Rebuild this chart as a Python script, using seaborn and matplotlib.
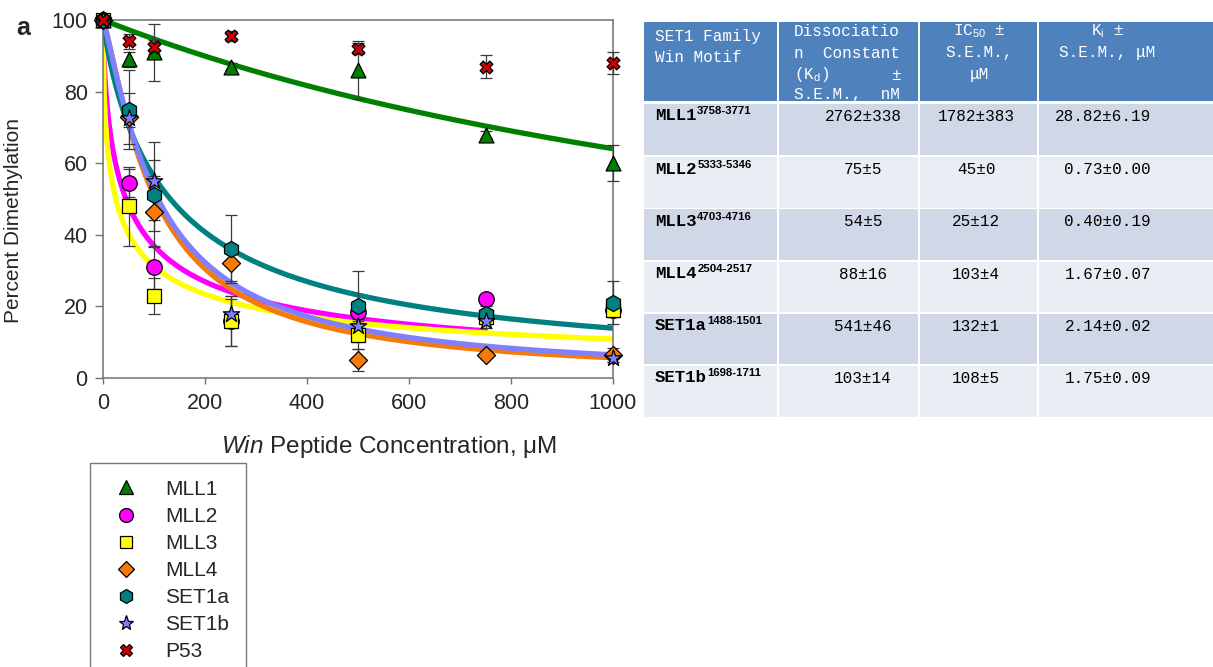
import numpy as np
import pandas as pd
import matplotlib
matplotlib.use("Agg")
import matplotlib.pyplot as plt
from matplotlib.lines import Line2D
from matplotlib.patches import Rectangle
import seaborn as sns

# ---------------- data ----------------
conc = [0, 50, 100, 250, 500, 750, 1000]          # Win peptide concentration, uM
peptides = ["MLL1", "MLL2", "MLL3", "MLL4", "SET1a", "SET1b", "P53"]

mll1 = [100, 89, 91, 87, 86, 68, 60]
mll2 = [100, 54.5, 31, 16, 18.5, 22, 19]
mll3 = [100, 48, 23, 16, 12, 17, 19]
mll4 = [100, 73, 46.5, 32, 5, 6.5, 6.5]
set1a = [100, 75, 51, 36, 20, 18, 21]
set1b = [100, 72.5, 55, 18, 14.5, 16, 5.5]
p53 = [100, 94, 92.5, 95.5, 92, 87, 88]

mll1_err = [0, 2, 8, 1, 8, 1, 5]
mll2_err = [0, 4, 6, 7, 3, 1, 2]
mll3_err = [0, 11, 5, 7, 4, 2, 2]
mll4_err = [0, 3, 10, 5, 3, 1, 2]
set1a_err = [0, 11, 10, 9.5, 10, 2, 6]
set1b_err = [0, 7, 11, 4, 2, 2, 1]
p53_err = [0, 2, 2, 1.5, 1.5, 3.3, 3]

# fitted dose-response parameters (IC50 from the table, Hill slope of each fit)
fit_names = ["MLL1", "MLL2", "MLL3", "MLL4", "SET1a", "SET1b"]
fit_ic50 = [1782, 45, 25, 103, 132, 108]
fit_hill = [1.0, 0.67, 0.57, 1.24, 0.9, 1.2]
fit_xmax = [1000, 750, 1000, 1000, 1000, 1000]

# table contents
tbl_motif = ["MLL1", "MLL2", "MLL3", "MLL4", "SET1a", "SET1b"]
tbl_range = ["3758-3771", "5333-5346", "4703-4716", "2504-2517", "1488-1501", "1698-1711"]
tbl_kd = ["2762±338", "75±5", "54±5", "88±16", "541±46", "103±14"]
tbl_ic50 = ["1782±383", "45±0", "25±12", "103±4", "132±1", "108±5"]
tbl_ki = ["28.82±6.19", "0.73±0.00", "0.40±0.19", "1.67±0.07", "2.14±0.02", "1.75±0.09"]

# ---------------- style ----------------
sns.set_style("ticks")
plt.rcParams["font.family"] = ["Liberation Sans", "DejaVu Sans"]
plt.rcParams["mathtext.fontset"] = "custom"
plt.rcParams["mathtext.rm"] = "Liberation Sans"
plt.rcParams["mathtext.it"] = "Liberation Sans:italic"
plt.rcParams["mathtext.bf"] = "Liberation Sans:bold"

colors = {"MLL1": "#008000", "MLL2": "#FF00FF", "MLL3": "#FFFF00", "MLL4": "#F57A0A",
          "SET1a": "#008080", "SET1b": "#8080FF", "P53": "#CC0000"}
markers = {"MLL1": "^", "MLL2": "o", "MLL3": "s", "MLL4": "D",
           "SET1a": "h", "SET1b": "*", "P53": "X"}
msize = {"MLL1": 115, "MLL2": 125, "MLL3": 90, "MLL4": 85,
         "SET1a": 135, "SET1b": 155, "P53": 85}

W, H = 1213, 667
fig = plt.figure(figsize=(W / 100, H / 100), dpi=100)
ax = fig.add_axes([103 / W, 1 - 378 / H, 510 / W, 358 / H])

# fitted curves
curve_rows = []
for name, ic, h, xm in zip(fit_names, fit_ic50, fit_hill, fit_xmax):
    xs = np.linspace(0, xm, 400)
    ys = 100.0 / (1.0 + (xs / ic) ** h)
    curve_rows.append(pd.DataFrame({"conc": xs, "pct": ys, "peptide": name}))
curves = pd.concat(curve_rows, ignore_index=True)
sns.lineplot(data=curves, x="conc", y="pct", hue="peptide", hue_order=fit_names,
             palette=[colors[n] for n in fit_names], linewidth=3.8, estimator=None,
             legend=False, ax=ax, zorder=2)

values = {"MLL1": (mll1, mll1_err), "MLL2": (mll2, mll2_err), "MLL3": (mll3, mll3_err),
          "MLL4": (mll4, mll4_err), "SET1a": (set1a, set1a_err),
          "SET1b": (set1b, set1b_err), "P53": (p53, p53_err)}

for name in peptides:
    y, e = values[name]
    ax.errorbar(conc, y, yerr=e, fmt="none", ecolor="#3a3a3a", elinewidth=0.9,
                capsize=4.5, capthick=0.9, zorder=3, clip_on=False)

for i, name in enumerate(peptides):
    y, _ = values[name]
    sns.scatterplot(x=conc, y=y, marker=markers[name], s=msize[name], color=colors[name],
                    edgecolor="black", linewidth=0.9, ax=ax, clip_on=False, zorder=4 + i)

ax.set_xlim(0, 1000)
ax.set_ylim(0, 100)
ax.set_xticks(range(0, 1001, 200))
ax.set_yticks(range(0, 101, 20))
for sp in ax.spines.values():
    sp.set_visible(True)
    sp.set_color("#707070")
    sp.set_linewidth(1.1)
ax.tick_params(axis="y", length=6, width=1.0, color="#707070", pad=5, labelsize=15.5)
ax.tick_params(axis="x", length=4, width=1.0, color="#707070", pad=7, labelsize=15.5)
ax.set_ylabel("Percent Dimethylation", fontsize=15)
ax.yaxis.set_label_coords(-0.157, 0.44)
ax.set_xlabel(r"$\it{Win}$ Peptide Concentration, μM", fontsize=17.5)
ax.xaxis.set_label_coords(0.56, -0.155)

fig.text(23 / W, 1 - 28 / H, "a", fontsize=18, fontweight="bold", ha="center", va="center")

# legend
leg_ms = {"MLL1": 10, "MLL2": 10, "MLL3": 8.5, "MLL4": 8.5, "SET1a": 10, "SET1b": 11, "P53": 9}
handles = [Line2D([], [], linestyle="none", marker=markers[n], markersize=leg_ms[n],
                  markerfacecolor=colors[n], markeredgecolor="black", markeredgewidth=0.9)
           for n in peptides]
leg = fig.legend(handles, peptides, loc="upper left",
                 bbox_to_anchor=(90 / W, 1 - 463 / H), bbox_transform=fig.transFigure,
                 borderaxespad=0, frameon=True, fancybox=False, fontsize=15,
                 handlelength=1.87, handletextpad=0.94, labelspacing=0.39, borderpad=0.8)
leg.get_frame().set_edgecolor("#555555")
leg.get_frame().set_linewidth(1.0)

# ---------------- table ----------------
tab = fig.add_axes([0, 0, 1, 1], zorder=-1)
tab.set_xlim(0, W)
tab.set_ylim(H, 0)
tab.axis("off")
tab.patch.set_alpha(0)

cols = [(644, 777), (779, 918), (920, 1037), (1039, 1216)]
head = (22, 101)
rows = [(104, 155), (157, 208), (209, 260), (262, 312), (314, 364), (366, 417)]
head_color = "#4F81BD"
row_colors = ["#D0D8E8", "#E9EDF4"]

for c0, c1 in cols:
    tab.add_patch(Rectangle((c0, head[0]), c1 - c0, head[1] - head[0], color=head_color, lw=0))
    for r, (r0, r1) in enumerate(rows):
        tab.add_patch(Rectangle((c0, r0), c1 - c0, r1 - r0, color=row_colors[r % 2], lw=0))

mono = ["Liberation Mono", "DejaVu Sans Mono"]
hfs = 11.5
hkw = dict(color="white", fontsize=hfs, family=mono, va="center")
tab.text(655, 37, "SET1 Family", ha="left", **hkw)
tab.text(655, 58, "Win Motif", ha="left", **hkw)
tab.text(794, 31.5, "Dissociatio", ha="left", **hkw)
tab.text(794, 53, "n  Constant", ha="left", **hkw)
tab.text(794, 75, r"(K$_{\mathrm{d}}$)", ha="left", **hkw)
tab.text(901, 75, "±", ha="right", **hkw)
tab.text(794, 95, "S.E.M.,  nM", ha="left", **hkw)
tab.text(979, 31, r"IC$_{50}$ ±", ha="center", **hkw)
tab.text(979, 53, "S.E.M.,", ha="center", **hkw)
tab.text(979, 74, "μM", ha="center", **hkw)
tab.text(1107, 31, r"K$_{\mathrm{i}}$ ±", ha="center", **hkw)
tab.text(1107, 53, "S.E.M., μM", ha="center", **hkw)

lab_fs = 12.5
char_w = 0.6 * lab_fs * 100 / 72
for (r0, r1), motif, rng, kd, ic, ki in zip(rows, tbl_motif, tbl_range, tbl_kd, tbl_ic50, tbl_ki):
    tab.text(655, r0 + 12, motif, fontsize=lab_fs, family=mono, fontweight="bold",
             color="black", ha="left", va="center")
    tab.text(655 + len(motif) * char_w + 0.5, r0 + 7.5, rng, fontsize=8.2,
             family=["Liberation Sans"], fontweight="bold", color="black",
             ha="left", va="center")
    tab.text(863, r0 + 12.5, kd, fontsize=11.5, family=mono, color="black", ha="center", va="center")
    tab.text(976, r0 + 12.5, ic, fontsize=11.5, family=mono, color="black", ha="center", va="center")
    tab.text(1151, r0 + 12.5, ki, fontsize=11.5, family=mono, color="black", ha="right", va="center")

fig.savefig("out.png", dpi=100)
